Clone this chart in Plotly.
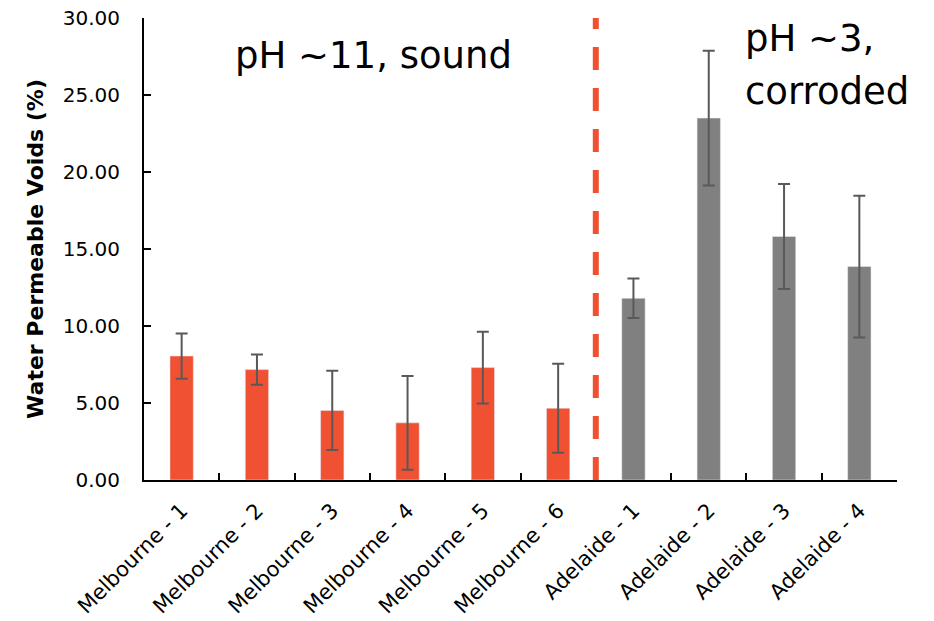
import plotly.graph_objects as go

melb_labels = ["Melbourne - 1", "Melbourne - 2", "Melbourne - 3", "Melbourne - 4", "Melbourne - 5", "Melbourne - 6"]
melb_values = [8.05, 7.17, 4.52, 3.71, 7.30, 4.66]
melb_errors = [1.47, 0.98, 2.58, 3.04, 2.33, 2.89]

adel_labels = ["Adelaide - 1", "Adelaide - 2", "Adelaide - 3", "Adelaide - 4"]
adel_values = [11.80, 23.50, 15.81, 13.86]
adel_errors = [1.28, 4.38, 3.41, 4.60]

y_ticks = [0, 5, 10, 15, 20, 25, 30]

FONT = "DejaVu Sans"
ORANGE = "#F05133"
GREY = "#808080"
ERR = "#595959"

fig = go.Figure()
fig.add_trace(go.Bar(x=melb_labels, y=melb_values, marker_color=ORANGE,
                     error_y=dict(type="data", array=melb_errors, color=ERR, thickness=2, width=6),
                     showlegend=False))
fig.add_trace(go.Bar(x=adel_labels, y=adel_values, marker_color=GREY,
                     error_y=dict(type="data", array=adel_errors, color=ERR, thickness=2, width=6),
                     showlegend=False))

divider = len(melb_labels) - 0.5
fig.add_shape(type="line", xref="x", yref="y", x0=divider, x1=divider, y0=0, y1=30,
              line=dict(color=ORANGE, width=6, dash="23px,18px"))

fig.add_annotation(text="pH ~11, sound", xref="paper", yref="paper", x=0.305, y=0.919,
                   showarrow=False, xanchor="center", yanchor="middle",
                   font=dict(family=FONT, size=37, color="black"))
fig.add_annotation(text="pH ~3,", xref="paper", yref="paper", x=0.795, y=0.955,
                   showarrow=False, xanchor="left", yanchor="middle",
                   font=dict(family=FONT, size=37, color="black"))
fig.add_annotation(text="corroded", xref="paper", yref="paper", x=0.795, y=0.840,
                   showarrow=False, xanchor="left", yanchor="middle",
                   font=dict(family=FONT, size=37, color="black"))

# page body adds an 8px offset, so the figure is sized to fit the 934x621 window
fig.update_layout(
    width=926, height=613,
    margin=dict(l=136, r=37, t=10, b=141),
    paper_bgcolor="white", plot_bgcolor="white",
    barmode="overlay", bargap=0.69,
    font=dict(family=FONT, color="black"),
)
fig.update_xaxes(type="category", categoryorder="array", categoryarray=melb_labels + adel_labels,
                 showline=True, linecolor="black", linewidth=2, ticks="inside", ticklen=7,
                 tickcolor="black", tickwidth=2, tickson="boundaries", tickangle=-45,
                 tickfont=dict(family=FONT, size=21, color="black"), showgrid=False,
                 ticklabelstandoff=8, automargin=False, ticklabeloverflow="allow",
                 range=[-0.5, len(melb_labels) + len(adel_labels) - 0.5])
fig.update_yaxes(range=[0, 30], tickvals=y_ticks, tickformat=".2f",
                 showline=True, linecolor="black", linewidth=2, ticks="inside", ticklen=7,
                 tickcolor="black", tickwidth=2, showgrid=False, zeroline=False,
                 tickfont=dict(family=FONT, size=20, color="black"), ticklabelstandoff=18,
                 automargin=False, ticklabeloverflow="allow",
                 title=dict(text="<b>Water Permeable Voids (%)</b>", font=dict(family=FONT, size=22, color="black"),
                            standoff=13))

fig.write_html("out.html")
